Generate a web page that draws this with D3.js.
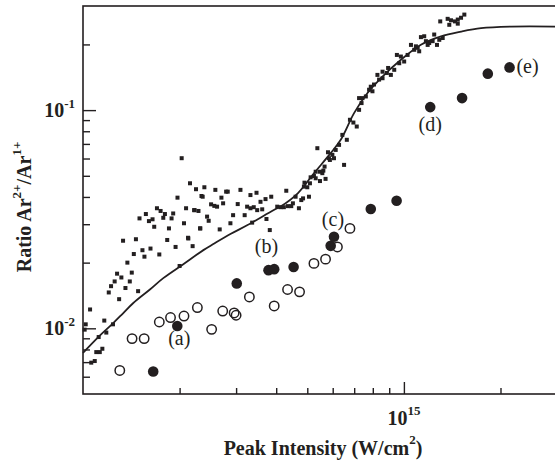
<!DOCTYPE html>
<html>
<head>
<meta charset="utf-8">
<script src="https://cdn.jsdelivr.net/npm/d3@7"></script>
<style>
    body{margin:0;background:#fff}
    svg{display:block}
    text{font-family:"Liberation Serif","Times New Roman",serif;fill:#231f20}
</style>
</head>
<body>
<div id="chart"></div>
<script>
// intensities in units of 1e14 W/cm^2, ratio Ar2+/Ar1+
var squares = [
    [2.03,0.0602],[2.155,0.0462],[2.25,0.0434],[2.34,0.0404],[1.97,0.0397],[2.095,0.0355],[2.22,0.0348],[2.29,0.0345],
    [1.70,0.0355],[1.745,0.0345],[1.80,0.0334],[1.91,0.0336],[1.50,0.0319],[1.57,0.0334],[1.605,0.031],[1.647,0.0316],
    [1.779,0.0321],[1.888,0.0319],[1.667,0.0292],[1.853,0.0287],[2.064,0.0303],[2.316,0.0287],[1.83,0.0254],[2.129,0.0258],
    [1.943,0.0236],[2.196,0.0238],[1.333,0.0252],[1.462,0.0256],[1.532,0.0228],[1.623,0.0232],[1.554,0.0213],[1.729,0.0218],
    [1.44,0.0219],[1.375,0.0200],[2.00,0.0193],[1.277,0.0178],[1.317,0.0171],[1.255,0.0164],[1.223,0.0156],[1.419,0.0180],
    [1.356,0.0153],[1.399,0.0164],[1.485,0.0148],[1.203,0.0146],[1.296,0.0136],[1.052,0.0122],[1.165,0.01085],[1.24,0.01043],
    [1.0196,0.01043],[1.012,0.00986],[1.182,0.00956],[1.119,0.00912],[1.100,0.00778],[1.128,0.00778],[1.149,0.00806],
    [1.088,0.00708],[1.061,0.00696],
    [2.389,0.0443],[2.585,0.0431],[2.793,0.0423],[2.825,0.0423],[3.095,0.0431],[3.325,0.0408],[3.473,0.0418],[2.36,0.0401],
    [2.70,0.0397],[2.507,0.0370],[2.566,0.0364],[2.617,0.0361],[2.733,0.0374],[3.035,0.0371],[3.247,0.0361],[3.405,0.0359],
    [3.574,0.0380],[3.705,0.0391],[3.86,0.0401],[4.30,0.0427],[2.227,0.0348],[2.436,0.0325],[2.464,0.0311],[2.936,0.0330],
    [3.19,0.0330],[3.325,0.0355],[3.49,0.0348],[3.618,0.0351],[2.88,0.0303],[3.366,0.0305],[3.73,0.0317],[2.321,0.0287],
    [2.667,0.0284],[3.82,0.0282],[2.125,0.0260],
    [4.03,0.0361],[4.127,0.0359],[4.226,0.0359],[4.35,0.0363],[4.457,0.0363],[4.509,0.0374],[4.597,0.0401],[4.789,0.0387],
    [4.708,0.0355],[5.06,0.0401],[4.90,0.0465],[5.00,0.0443],[5.121,0.0492],[5.244,0.0499],[5.31,0.0522],[5.476,0.0522],
    [5.476,0.0473],[5.70,0.0484],[5.61,0.0528],[5.374,0.0669],[5.80,0.0641],[5.84,0.0602],
    [15.43,0.274],[15.07,0.265],[14.72,0.260],[14.43,0.255],[14.02,0.258],[13.69,0.262],[12.98,0.255],[14.72,0.249],
    [13.85,0.246],[13.21,0.214],[12.89,0.210],[12.43,0.222],[12.29,0.207],[11.99,0.203],[11.71,0.207],[11.57,0.218],
    [11.30,0.216],[12.68,0.199],[11.86,0.199],[11.04,0.193],[10.77,0.189],[10.52,0.199],[11.16,0.186],[10.90,0.196],
    [10.27,0.179],[10.02,0.167],[9.786,0.176],[9.67,0.164],[9.51,0.179],[9.33,0.153],[9.107,0.145],[8.93,0.156],
    [8.85,0.148],[8.58,0.140],[8.37,0.138],[8.27,0.145],[8.58,0.150],[8.07,0.131],[7.885,0.128],[7.79,0.124],
    [7.98,0.122],[7.61,0.1155],[7.43,0.1135],[7.25,0.1135],[7.38,0.1077],[7.25,0.1003],[6.79,0.0903],[6.96,0.0877],
    [7.13,0.0841],[6.64,0.0731],[6.43,0.0770],[6.28,0.0693],[6.13,0.0657],[5.985,0.0624],[6.055,0.0602],[5.88,0.0591],
    [6.51,0.0561],[5.66,0.0551],[5.57,0.0514],[5.31,0.0487],[5.096,0.0462],[4.88,0.0446],[4.85,0.0394]
]

var openCircles = [
    [1.302,0.00641],[1.422,0.00897],[1.551,0.00897],[1.729,0.01069],[1.874,0.0112],[2.064,0.01138],[2.272,0.01245],
    [2.517,0.00989],[2.725,0.0120],[2.958,0.01176],[3.0,0.01148],[3.30,0.01392],[3.943,0.01266],[4.34,0.01506],
    [4.73,0.01469],[5.244,0.01984],[5.70,0.02075],[6.206,0.0236],[6.79,0.0287]
]

var filledCircles = [
    [1.655,0.00634],[1.967,0.01025],[3.014,0.01606],[3.785,0.01847],[3.943,0.01867],[4.532,0.0191],[5.913,0.02387],
    [6.055,0.02626],[7.885,0.0352],[9.49,0.03845],[12.08,0.1032],[15.18,0.1135],[18.26,0.1469],[21.34,0.1569]
]

// model curve
var curve = [
    [1.0,0.00772],[1.13,0.00929],[1.24,0.01054],[1.333,0.01172],[1.432,0.01303],[1.62,0.01511],[1.779,0.01698],
    [2.054,0.01968],[2.372,0.02282],[2.547,0.02432],[2.88,0.02704],[3.257,0.02973],[3.932,0.03484],[4.127,0.03615],
    [4.67,0.04157],[5.245,0.05135],[5.913,0.0635],[6.356,0.0731],[6.994,0.0969],[7.702,0.1197],
    [8.48,0.1403],[9.79,0.1702],[11.3,0.1995],[13.05,0.2178],[15.07,0.229],[17.4,0.2375],[21.6,0.2415],[30,0.2415]
]

// point labels: text and index of the filled circle they belong to
var labels = ["(a)","(b)","(c)","(d)","(e)"]
var labelPoint = [1,3,7,10,13]

var xMinor = [2e14,3e14,4e14,5e14,6e14,7e14,8e14,9e14,2e15]
var yMinor = [0.006,0.007,0.008,0.009,0.02,0.03,0.04,0.05,0.06,0.07,0.08,0.09,0.2]
var xMajor = [[1e15,"10","15"]]
var yMajor = [[0.1,"10","-1"],[0.01,"10","-2"]]

var unit = 1e14
var w = 555, h = 461
var padL = 83, padR = 557, padT = 6, padB = 394

var svg = d3.select("#chart").append("svg")
    .attr("width",w)
    .attr("height",h)

var x = d3.scaleLog().domain([1e14,3e15]).range([padL,padR])
var y = d3.scaleLog().domain([0.005,0.3]).range([padB,padT])

// ticks (inside the frame)
svg.append("g").attr("transform","translate(0,"+padB+")")
    .call(d3.axisBottom(x).tickValues(xMinor).tickSize(-6).tickFormat("").tickSizeOuter(0))
svg.append("g").attr("transform","translate(0,"+padB+")")
    .call(d3.axisBottom(x).tickValues(xMajor.map(function(d){return d[0]})).tickSize(-12).tickFormat("").tickSizeOuter(0))
svg.append("g").attr("transform","translate("+padL+",0)")
    .call(d3.axisLeft(y).tickValues(yMinor).tickSize(-7).tickFormat("").tickSizeOuter(0))
svg.append("g").attr("transform","translate("+padL+",0)")
    .call(d3.axisLeft(y).tickValues(yMajor.map(function(d){return d[0]})).tickSize(-13).tickFormat("").tickSizeOuter(0))
svg.selectAll(".domain").remove()
svg.selectAll(".tick line").attr("stroke","#231f20").attr("stroke-width",1.4)

// frame
svg.append("rect")
    .attr("x",padL).attr("y",padT)
    .attr("width",padR-padL).attr("height",padB-padT)
    .attr("fill","none").attr("stroke","#231f20").attr("stroke-width",1.6)

// tick labels with superscript
xMajor.forEach(function(d){
    var t = svg.append("text").attr("x",x(d[0])).attr("y",padB+31)
        .attr("text-anchor","middle").attr("font-weight","bold").attr("font-size",20)
    t.append("tspan").text(d[1])
    t.append("tspan").text(d[2]).attr("font-size",13).attr("dy",-10)
})
yMajor.forEach(function(d){
    var t = svg.append("text").attr("x",75).attr("y",y(d[0])+7)
        .attr("text-anchor","end").attr("font-weight","bold").attr("font-size",20)
    t.append("tspan").text(d[1])
    t.append("tspan").text(d[2]).attr("font-size",13).attr("dy",-9)
})

// axis titles
var xt = svg.append("text").attr("x",323).attr("y",455)
    .attr("text-anchor","middle").attr("font-weight","bold").attr("font-size",20)
xt.append("tspan").text("Peak Intensity (W/cm")
xt.append("tspan").text("2").attr("font-size",13).attr("dy",-11)
xt.append("tspan").text(")").attr("dy",11)

var yt = svg.append("text").attr("transform","translate(31,207) rotate(-90)")
    .attr("text-anchor","middle").attr("font-weight","bold").attr("font-size",20)
yt.append("tspan").text("Ratio Ar")
yt.append("tspan").text("2+").attr("font-size",13).attr("dy",-10)
yt.append("tspan").text("/Ar").attr("dy",10)
yt.append("tspan").text("1+").attr("font-size",13).attr("dy",-10)

// data squares
svg.selectAll(".sq")
    .data(squares)
    .join("rect")
    .attr("class","sq")
    .attr("x",function(d){return x(d[0]*unit)-2})
    .attr("y",function(d){return y(d[1])-2})
    .attr("width",4)
    .attr("height",4)
    .attr("fill","#231f20")

var line = d3.line()
    .x(function(d){return x(d[0]*unit)})
    .y(function(d){return y(d[1])})
    .curve(d3.curveCatmullRom)
svg.append("path")
    .datum(curve)
    .attr("d",line)
    .attr("fill","none")
    .attr("stroke","#231f20")
    .attr("stroke-width",1.8)

// open circles
svg.selectAll(".open")
    .data(openCircles)
    .join("circle")
    .attr("class","open")
    .attr("cx",function(d){return x(d[0]*unit)})
    .attr("cy",function(d){return y(d[1])})
    .attr("r",4.7)
    .attr("fill","none")
    .attr("stroke","#231f20")
    .attr("stroke-width",1.5)

// filled circles
svg.selectAll(".filled")
    .data(filledCircles)
    .join("circle")
    .attr("class","filled")
    .attr("cx",function(d){return x(d[0]*unit)})
    .attr("cy",function(d){return y(d[1])})
    .attr("r",5.3)
    .attr("fill","#231f20")

// labels next to the filled circles
var labelOffset = [[2,19],[-2,-17],[-1,-11],[0,24],[18,6]]
svg.selectAll(".lab")
    .data(labels)
    .join("text")
    .attr("class","lab")
    .text(function(d){return d})
    .attr("x",function(d,i){return x(filledCircles[labelPoint[i]][0]*unit)+labelOffset[i][0]})
    .attr("y",function(d,i){return y(filledCircles[labelPoint[i]][1])+labelOffset[i][1]})
    .attr("text-anchor","middle")
    .attr("font-size",20)
</script>
</body>
</html>
